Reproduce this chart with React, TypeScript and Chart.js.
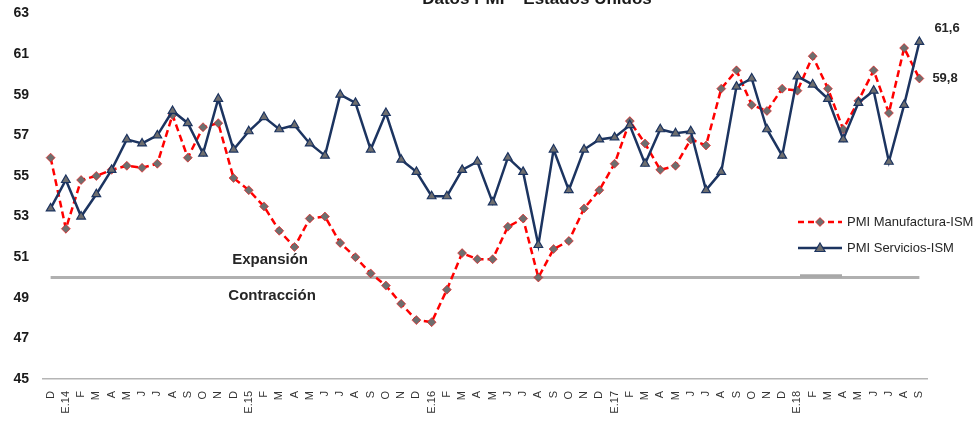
import React, { useEffect, useRef } from "react";
import { Chart, registerables } from "chart.js";

Chart.register(...registerables);

const categories: string[] = [
  "D",
  "E.14", "F", "M", "A", "M", "J", "J", "A", "S", "O", "N", "D",
  "E.15", "F", "M", "A", "M", "J", "J", "A", "S", "O", "N", "D",
  "E.16", "F", "M", "A", "M", "J", "J", "A", "S", "O", "N", "D",
  "E.17", "F", "M", "A", "M", "J", "J", "A", "S", "O", "N", "D",
  "E.18", "F", "M", "A", "M", "J", "J", "A", "S",
];

const manufactura: number[] = [
  55.9,
  52.4, 54.8, 55.0, 55.3, 55.5, 55.4, 55.6, 58.0, 55.9, 57.4, 57.6, 54.9,
  54.3, 53.5, 52.3, 51.5, 52.9, 53.0, 51.7, 51.0, 50.2, 49.6, 48.7, 47.9,
  47.8, 49.4, 51.2, 50.9, 50.9, 52.5, 52.9, 50.0, 51.4, 51.8, 53.4, 54.3,
  55.6, 57.7, 56.6, 55.3, 55.5, 56.8, 56.5, 59.3, 60.2, 58.5, 58.2, 59.3,
  59.2, 60.9, 59.3, 57.3, 58.7, 60.2, 58.1, 61.3, 59.8,
];

const servicios: number[] = [
  53.4,
  54.8, 53.0, 54.1, 55.3, 56.8, 56.6, 57.0, 58.2, 57.6, 56.1, 58.8, 56.3,
  57.2, 57.9, 57.3, 57.5, 56.6, 56.0, 59.0, 58.6, 56.3, 58.1, 55.8, 55.2,
  54.0, 54.0, 55.3, 55.7, 53.7, 55.9, 55.2, 51.6, 56.3, 54.3, 56.3, 56.8,
  56.9, 57.5, 55.6, 57.3, 57.1, 57.2, 54.3, 55.2, 59.4, 59.8, 57.3, 56.0,
  59.9, 59.5, 58.8, 56.8, 58.6, 59.2, 55.7, 58.5, 61.6,
];

const umbral: number[] = categories.map(() => 50);

const yTicks = { min: 45, max: 63, step: 2 };
const titleText = "Datos PMI – Estados Unidos";
const seriesNames = ["PMI Manufactura-ISM", "PMI Servicios-ISM"];
const zoneLabels = ["Expansión", "Contracción"];
const endLabels = ["61,6", "59,8"];

const RED = "#ff0000";
const NAVY = "#1c3460";
const GRAY_MARK = "#6e6e6e";
const GRAY_LINE = "#b0b0b0";

const overlayPlugin = {
  id: "overlay",
  afterDatasetsDraw(chart: any) {
    const ctx = chart.ctx;
    const xs = chart.scales.x;
    const ys = chart.scales.y;
    ctx.save();
    // title (cut at top as in reference)
    ctx.fillStyle = "#1a1a1a";
    ctx.font = "bold 17px 'Liberation Sans', Arial, sans-serif";
    ctx.textAlign = "center";
    ctx.textBaseline = "alphabetic";
    ctx.fillText(titleText, 537, 4);

    // zone labels
    ctx.font = "bold 15px 'Liberation Sans', Arial, sans-serif";
    ctx.fillStyle = "#262626";
    ctx.textBaseline = "middle";
    const zx = xs.getPixelForValue(14.4);
    ctx.fillText(zoneLabels[0], zx, ys.getPixelForValue(50.85));
    ctx.fillText(zoneLabels[1], zx + 2, ys.getPixelForValue(49.1));

    // end labels
    ctx.font = "bold 13px 'Liberation Sans', Arial, sans-serif";
    ctx.textAlign = "left";
    const last = categories.length - 1;
    const lx = xs.getPixelForValue(last);
    ctx.fillText(endLabels[0], lx + 15, ys.getPixelForValue(servicios[last]) - 14);
    ctx.fillText(endLabels[1], lx + 13, ys.getPixelForValue(manufactura[last]));

    // legend
    const lgX0 = 798, lgX1 = 842, lgY = [222, 248, 276];
    ctx.font = "13px 'Liberation Sans', Arial, sans-serif";
    ctx.strokeStyle = RED;
    ctx.lineWidth = 2.5;
    ctx.setLineDash([6, 4]);
    ctx.beginPath();
    ctx.moveTo(lgX0, lgY[0]);
    ctx.lineTo(lgX1, lgY[0]);
    ctx.stroke();
    ctx.setLineDash([]);
    const cx = (lgX0 + lgX1) / 2;
    ctx.fillStyle = GRAY_MARK;
    ctx.strokeStyle = "rgba(255,0,0,0.6)";
    ctx.lineWidth = 1;
    ctx.beginPath();
    ctx.moveTo(cx, lgY[0] - 4.5);
    ctx.lineTo(cx + 4.5, lgY[0]);
    ctx.lineTo(cx, lgY[0] + 4.5);
    ctx.lineTo(cx - 4.5, lgY[0]);
    ctx.closePath();
    ctx.fill();
    ctx.stroke();
    ctx.strokeStyle = NAVY;
    ctx.lineWidth = 2.5;
    ctx.beginPath();
    ctx.moveTo(lgX0, lgY[1]);
    ctx.lineTo(lgX1, lgY[1]);
    ctx.stroke();
    ctx.fillStyle = GRAY_MARK;
    ctx.lineWidth = 1.2;
    ctx.beginPath();
    ctx.moveTo(cx, lgY[1] - 5);
    ctx.lineTo(cx + 5, lgY[1] + 3.5);
    ctx.lineTo(cx - 5, lgY[1] + 3.5);
    ctx.closePath();
    ctx.fill();
    ctx.stroke();
    ctx.strokeStyle = "#a8a8a8";
    ctx.lineWidth = 3.5;
    ctx.beginPath();
    ctx.moveTo(lgX0 + 2, lgY[2]);
    ctx.lineTo(lgX1, lgY[2]);
    ctx.stroke();
    ctx.fillStyle = "#262626";
    ctx.textAlign = "left";
    ctx.textBaseline = "middle";
    ctx.fillText(seriesNames[0], 847, lgY[0]);
    ctx.fillText(seriesNames[1], 847, lgY[1]);
    ctx.restore();
  },
};

export default function App() {
  const ref = useRef<HTMLCanvasElement | null>(null);
  useEffect(() => {
    if (!ref.current) return;
    const chart = new Chart(ref.current, {
      type: "line",
      data: {
        labels: categories,
        datasets: [
          {
            label: "umbral",
            data: umbral,
            borderColor: GRAY_LINE,
            borderWidth: 3,
            pointRadius: 0,
            order: 3,
          },
          {
            label: seriesNames[0],
            data: manufactura,
            borderColor: RED,
            borderWidth: 2.5,
            borderDash: [7, 4],
            pointStyle: "rectRot",
            pointRadius: 4.5,
            pointBackgroundColor: GRAY_MARK,
            pointBorderColor: "rgba(255,0,0,0.55)",
            pointBorderWidth: 1,
            order: 2,
          },
          {
            label: seriesNames[1],
            data: servicios,
            borderColor: NAVY,
            borderWidth: 2.5,
            pointStyle: "triangle",
            pointRadius: 5,
            pointBackgroundColor: GRAY_MARK,
            pointBorderColor: NAVY,
            pointBorderWidth: 1.2,
            order: 1,
          },
        ],
      },
      options: {
        responsive: false,
        animation: false,
        layout: { padding: { top: 13.5, right: 51, left: 0, bottom: 0 } },
        plugins: {
          legend: { display: false },
          title: { display: false },
          tooltip: { enabled: false },
        },
        scales: {
          x: {
            offset: true,
            grid: { display: false, drawTicks: false },
            border: { display: true, color: "#b5b5b5", width: 1.5 },
            ticks: {
              autoSkip: false,
              minRotation: 90,
              maxRotation: 90,
              padding: 12,
              color: "#333333",
              font: { family: "'Liberation Sans', Arial, sans-serif", size: 11 },
            },
            afterFit: (s: any) => {
              s.height = 43;
            },
          },
          y: {
            min: yTicks.min,
            max: yTicks.max,
            grid: { display: false, drawTicks: true, tickLength: 14 },
            border: { display: false },
            ticks: {
              stepSize: yTicks.step,
              padding: 0,
              color: "#1a1a1a",
              font: { family: "'Liberation Sans', Arial, sans-serif", size: 14, weight: "bold" },
            },
            afterFit: (s: any) => {
              s.width = 43;
            },
          },
        },
      },
      plugins: [overlayPlugin],
    });
    return () => chart.destroy();
  }, []);
  return (
    <div style={{ position: "absolute", left: 0, top: 0, width: 978, height: 422, background: "#fff" }}>
      <canvas ref={ref} width={978} height={422} />
    </div>
  );
}
